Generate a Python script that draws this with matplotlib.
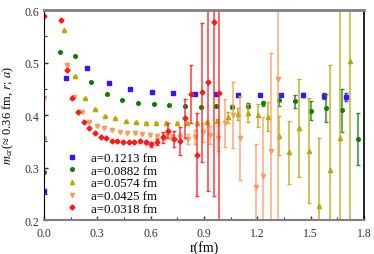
import numpy as np
import matplotlib
matplotlib.use("Agg")
import matplotlib.pyplot as plt
from matplotlib.ticker import MultipleLocator, FuncFormatter

plt.rcParams["font.family"] = ["Liberation Serif", "DejaVu Serif"]
plt.rcParams["mathtext.fontset"] = "stix"

# lattice spacings (fm) and legend labels
spacings = [0.1213, 0.0882, 0.0574, 0.0425, 0.0318]
labels = ["a=0.1213 fm", "a=0.0882 fm", "a=0.0574 fm", "a=0.0425 fm", "a=0.0318 fm"]

# a = 0.1213 fm
n_blue = [0, 1, 2, 3, 4, 5, 6, 7, 8, 9, 10, 11, 12, 13, 14]
m_blue = [0.256, 0.470, 0.490, 0.4615, 0.4495, 0.4444, 0.441, 0.4406, 0.4406,
          0.4387, 0.4387, 0.4387, 0.438, 0.4356, 0.4337]
e_blue = [0, 0.001, 0.001, 0.001, 0.001, 0.001, 0.001, 0.001, 0.001,
          0.001, 0.002, 0.002, 0.003, 0.006, 0.0076]

# a = 0.0882 fm
n_green = [0, 1, 2, 3, 4, 5, 6, 7, 8, 9, 10, 11, 12, 13, 14, 15, 16, 17, 18, 19, 20]
m_green = [0.291, 0.5206, 0.512, 0.463, 0.4394, 0.429, 0.4234, 0.4215, 0.419,
           0.4165, 0.416, 0.4165, 0.416, 0.418, 0.422, 0.4286, 0.426, 0.408,
           0.413, 0.4095, 0.354]
e_green = [0, 0, 0, 0, 0, 0, 0, 0.001, 0.001, 0.001, 0.002, 0.002, 0.003,
           0.005, 0.005, 0.011, 0.0127, 0.018, 0.027, 0.041, 0.05]

# a = 0.0574 fm
n_olive = [0, 2, 3, 4, 5, 6, 7, 8, 9, 10, 11, 12, 13, 14, 15, 16, 17, 18, 19,
           20, 21, 22, 23, 24, 25, 26, 27, 28, 29, 30]
m_olive = [0.3575, 0.562, 0.474, 0.432, 0.411, 0.399, 0.394, 0.389, 0.386,
           0.385, 0.385, 0.385, 0.385, 0.384, 0.384, 0.386, 0.389, 0.3956,
           0.402, 0.404, 0.3994, 0.3967, 0.3606, 0.329, 0.375, 0.332, 0.227,
           0.295, 0.356, 0.503]
e_olive = [0, 0, 0, 0, 0, 0, 0, 0, 0, 0.001, 0.001, 0.002, 0.002, 0.002,
           0.003, 0.003, 0.004, 0.01, 0.012, 0.017, 0.022, 0.028, 0.0375,
           0.06, 0.093, 0.1, 0.13, 0.2, 0.3, 0.35]

# a = 0.0425 fm
n_orange = [0, 3, 4, 5, 6, 7, 8, 9, 10, 11, 12, 13, 14, 15, 16, 17, 18, 19,
            20, 21, 22, 23, 24, 25, 26, 28, 29, 30, 31]
m_orange = [0.432, 0.496, 0.435, 0.405, 0.387, 0.379, 0.375, 0.372, 0.368,
            0.366, 0.365, 0.364, 0.362, 0.36, 0.359, 0.3575, 0.358, 0.354,
            0.3575, 0.367, 0.362, 0.356, 0.385, 0.40, 0.356, 0.262, 0.283,
            0.332, 0.4686]
e_orange = [0, 0, 0, 0, 0, 0, 0, 0, 0, 0, 0.001, 0.002, 0.002, 0.003, 0.004,
            0.006, 0.008, 0.009, 0.013, 0.018, 0.018, 0.025, 0.045, 0.062,
            0.08, 0.082, 0.113, 0.187, 0.3]

# a = 0.0318 fm
n_red = [0, 3, 4, 5, 6, 7, 8, 9, 10, 11, 12, 13, 14, 15, 16, 17, 18, 19, 20,
         21, 22, 23, 24, 25, 26, 27, 28, 29, 30, 31]
m_red = [0.589, 0.5815, 0.485, 0.433, 0.405, 0.387, 0.376, 0.365, 0.3587,
         0.3556, 0.351, 0.350, 0.349, 0.349, 0.349, 0.350, 0.348, 0.344,
         0.348, 0.3575, 0.370, 0.354, 0.35, 0.394, 0.44, 0.324, 0.443,
         0.4635, 0.578, 0.442]
e_red = [0, 0, 0, 0, 0, 0, 0, 0, 0, 0, 0, 0, 0, 0.001, 0.002, 0.002, 0.003,
         0.004, 0.006, 0.01, 0.014, 0.015, 0.027, 0.037, 0.055, 0.079, 0.133,
         0.208, 0.333, 0.35]

series = [
    (n_blue, m_blue, e_blue, "#3a14f5", "s", 2.4),
    (n_green, m_green, e_green, "#107c10", "o", 2.6),
    (n_olive, m_olive, e_olive, "#b8a80a", "^", 3.0),
    (n_orange, m_orange, e_orange, "#ff9a5c", "v", 3.0),
    (n_red, m_red, e_red, "#ff1a1a", "P", 3.2),
]

fig = plt.figure(figsize=(3.74, 2.55), dpi=100)
ax = fig.add_axes([0.1176, 0.1333, 0.8556, 0.8235])

for (n, m, e, col, mk, ms), a, lab in zip(series, spacings, labels):
    r = np.array(n) * a
    ax.errorbar(r, m, yerr=e, fmt="none", ecolor=col, elinewidth=1.1,
                capsize=1.6, capthick=1.0, alpha=0.85)
    ax.plot(r, m, ls="none", marker=mk, ms=ms, color=col, mec=col, label=lab)

ax.set_xlim(0.0, 1.8)
ax.set_ylim(0.2, 0.6)
ax.xaxis.set_major_locator(MultipleLocator(0.3))
ax.xaxis.set_minor_locator(MultipleLocator(0.15))
ax.yaxis.set_major_locator(MultipleLocator(0.1))
ax.yaxis.set_minor_locator(MultipleLocator(0.05))
fmt = FuncFormatter(lambda v, p: "%.1f" % v)
ax.xaxis.set_major_formatter(fmt)
ax.yaxis.set_major_formatter(fmt)
ax.tick_params(which="both", direction="in", labelsize=8.5, colors="#333333",
               top=False, right=False)
ax.tick_params(which="major", length=3, width=1)
ax.tick_params(which="minor", length=2, width=0.8)
ax.tick_params(axis="x", pad=5)

ax.spines["top"].set_color("#808080")
ax.spines["top"].set_linewidth(2)
ax.spines["bottom"].set_color("#808080")
ax.spines["bottom"].set_linewidth(1.5)
ax.spines["left"].set_color("black")
ax.spines["right"].set_color("black")
ax.spines["right"].set_linewidth(1.2)

ax.set_xlabel(r"r(fm)", fontsize=10, labelpad=1)
ax.set_ylabel(r"$m_{\rm cr}$(≈ 0.36 fm, $r$; $a$)", fontsize=9, labelpad=6)

ax.legend(loc="lower left", bbox_to_anchor=(0.05, 0.0), frameon=False,
          fontsize=9.3, handlelength=1.0, handletextpad=1.0, labelspacing=0.05,
          borderaxespad=0)

fig.savefig("out.png", dpi=100)
